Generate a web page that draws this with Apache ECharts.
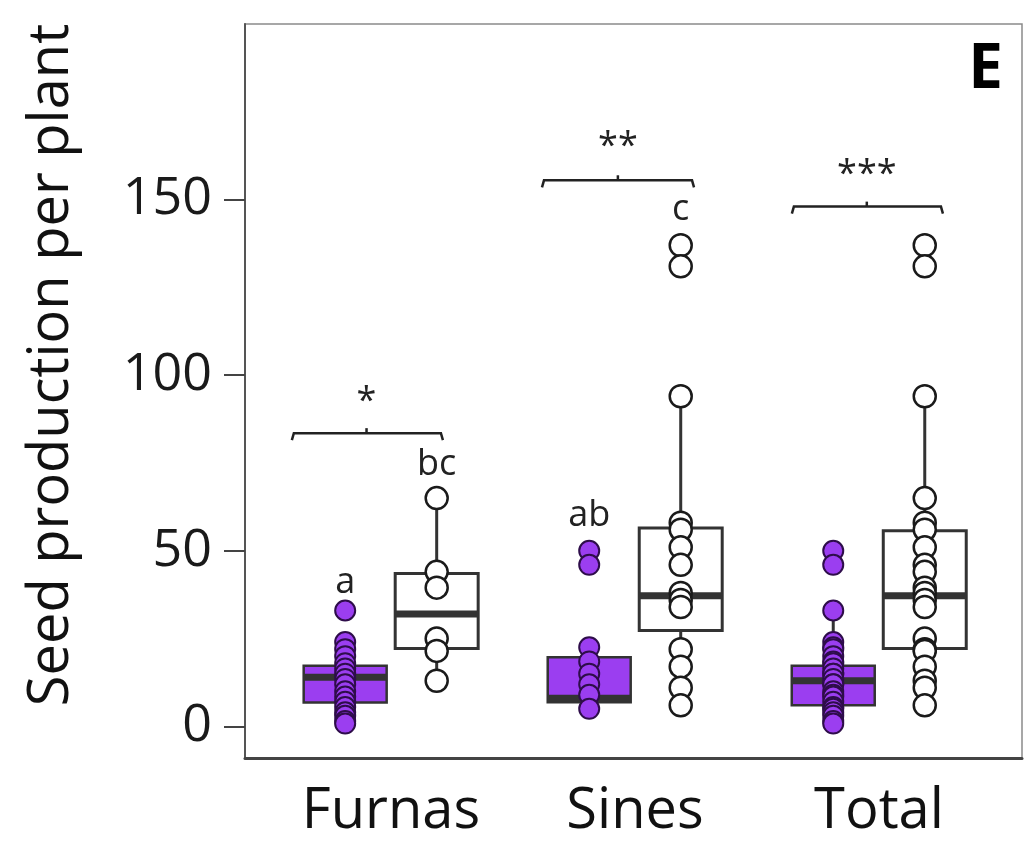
<!DOCTYPE html>
<html><head><meta charset="utf-8">
<script src="https://cdn.jsdelivr.net/npm/echarts@6/dist/echarts.min.js"></script>
<style>html,body{margin:0;padding:0;background:#fff}#c{width:1024px;height:847px}</style>
</head><body><div id="c"></div>
<script>
// ---- data ----
const sites = ['Furnas', 'Sines', 'Total'];
const yTicks = [0, 50, 100, 150];
// box stats: [lower whisker, Q1, median, Q3, upper whisker]
const purpleBox = [[0.8, 6.8, 14, 17.3, 24], [5, 6.9, 8, 19.7, 22.5], [0.8, 6, 13, 17.3, 33]];
const whiteBox = [[13, 22.2, 32, 43.5, 65], [6, 27.3, 37.2, 56.5, 94], [6, 22.2, 37.2, 55.7, 94]];
const purplePts = [
  [33, 24, 22, 20, 18, 16.5, 15, 13.5, 12, 10, 8.5, 7, 5.5, 4, 3, 1.5, 0.8],
  [50, 46, 22.5, 18.5, 15, 12, 9, 5],
  [50, 46, 33, 24, 22.5, 22, 20, 18.5, 18, 16.5, 15, 15, 13.5, 12, 12, 10, 9, 8.5, 7, 5.5, 5, 4, 3, 1.5, 0.8]
];
const whitePts = [
  [65, 44, 39.5, 25, 21.5, 13],
  [137, 131, 94, 58, 56, 51, 46, 38, 36, 34, 22, 17, 11, 6],
  [137, 131, 94, 65, 58, 56, 51, 46, 44, 39.5, 38, 36, 34, 25, 22, 21.5, 17, 13, 11, 6]
];
const purpleLetters = ['a', 'ab', ''];
const purpleLetterY = [41, 60, null];
const whiteLetters = ['bc', 'c', ''];
const whiteLetterY = [74.4, 147, null];
const sigMarks = ['*', '**', '***'];
const sigY = [92.3, 165, 157];
const bracketY = [83.5, 155.5, 148];
const bracketFrom = [0.594, 1.619, 2.643];
const bracketTo = [1.213, 2.242, 3.262];
const bracketMid = [0.9, 1.93, 2.95];

// ---- layout helpers ----
const OFF = 0.1875, HALF = 0.17;
const PURPLE = '#9b3ef0', DARK = '#333333';
const FONT = 'Open Sans';

const boxData = [];
sites.forEach((s, i) => {
  boxData.push([i + 1 - OFF].concat(purpleBox[i]).concat([0]));
  boxData.push([i + 1 + OFF].concat(whiteBox[i]).concat([1]));
});
const pData = [], wData = [];
sites.forEach((s, i) => {
  purplePts[i].forEach(v => pData.push([i + 1 - OFF, v]));
  whitePts[i].forEach(v => wData.push([i + 1 + OFF, v]));
});
const textData = [];
sites.forEach((s, i) => {
  if (purpleLetters[i]) textData.push([i + 1 - OFF, purpleLetterY[i], purpleLetters[i]]);
  if (whiteLetters[i]) textData.push([i + 1 + OFF, whiteLetterY[i], whiteLetters[i]]);
  textData.push([bracketMid[i], sigY[i], sigMarks[i]]);
});
const brData = sites.map((s, i) => [bracketFrom[i], bracketTo[i], bracketY[i], bracketMid[i]]);

const chart = echarts.init(document.getElementById('c'), null, {renderer: 'canvas'});
chart.setOption({
  animation: false,
  backgroundColor: '#fff',
  title: {text: 'E', right: 16, top: 34, textStyle: {fontFamily: FONT, fontWeight: 'bold', fontSize: 62, color: '#000'}},
  grid: {left: 245, right: 2, top: 24, bottom: 89, show: true, borderColor: '#8a8a8a', borderWidth: 1.5, containLabel: false},
  xAxis: {
    type: 'value', min: 0.402, max: 3.586,
    splitLine: {show: false},
    axisLine: {show: true, onZero: false, lineStyle: {color: '#444', width: 3}},
    axisTick: {show: false},
    axisLabel: {
      customValues: [1, 2, 3],
      formatter: v => sites[Math.round(v) - 1] || '',
      fontFamily: FONT, fontSize: 56, color: '#111', margin: 26
    }
  },
  yAxis: {
    type: 'value', min: -9, max: 200,
    name: 'Seed production per plant', nameLocation: 'middle', nameRotate: 90, nameGap: 165,
    nameTextStyle: {fontFamily: FONT, fontSize: 56, color: '#111', padding: [0, 0, 0, 52]},
    splitLine: {show: false},
    axisLine: {show: true, onZero: false, lineStyle: {color: '#555', width: 2}},
    axisTick: {show: true, customValues: yTicks, length: 21, lineStyle: {color: '#444', width: 2}},
    axisLabel: {customValues: yTicks, fontFamily: FONT, fontSize: 52, color: '#1a1a1a', margin: 33}
  },
  series: [
    {
      type: 'custom', z: 2, data: boxData,
      renderItem: (params, api) => {
        const x = api.value(0);
        const lo = api.coord([x, api.value(1)]), q1 = api.coord([x, api.value(2)]),
          md = api.coord([x, api.value(3)]), q3 = api.coord([x, api.value(4)]), hi = api.coord([x, api.value(5)]);
        const hw = api.size([HALF, 0])[0];
        const purple = api.value(6) === 0;
        const lw = {stroke: DARK, lineWidth: 3};
        return {
          type: 'group', children: [
            {type: 'line', shape: {x1: hi[0], y1: hi[1], x2: q3[0], y2: q3[1]}, style: lw},
            {type: 'line', shape: {x1: lo[0], y1: lo[1], x2: q1[0], y2: q1[1]}, style: lw},
            {type: 'rect', shape: {x: q3[0] - hw, y: q3[1], width: 2 * hw, height: q1[1] - q3[1]},
              style: {fill: purple ? PURPLE : '#fff', stroke: DARK, lineWidth: purple ? 2.5 : 3}},
            {type: 'line', shape: {x1: md[0] - hw, y1: md[1], x2: md[0] + hw, y2: md[1]}, style: {stroke: DARK, lineWidth: 7}}
          ]
        };
      }
    },
    {
      type: 'scatter', z: 3, data: pData, symbol: 'circle', symbolSize: 20,
      itemStyle: {color: PURPLE, borderColor: '#2e0d4a', borderWidth: 2, opacity: 1}
    },
    {
      type: 'scatter', z: 3, data: wData, symbol: 'circle', symbolSize: 22,
      itemStyle: {color: '#fff', borderColor: '#1a1a1a', borderWidth: 2.5, opacity: 1}
    },
    {
      type: 'custom', z: 4, data: brData,
      renderItem: (params, api) => {
        const a = api.coord([api.value(0), api.value(2)]);
        const b = api.coord([api.value(1), api.value(2)]);
        const m = api.coord([api.value(3), api.value(2)]);
        return {
          type: 'group', children: [
            {type: 'polyline', shape: {points: [[a[0], a[1] + 7], [a[0] + 2, a[1]], [b[0] - 2, b[1]], [b[0], b[1] + 7]]},
              style: {stroke: '#222', lineWidth: 2.5, fill: null}},
            {type: 'line', shape: {x1: m[0], y1: m[1], x2: m[0], y2: m[1] - 5}, style: {stroke: '#222', lineWidth: 2.5}}
          ]
        };
      }
    },
    {
      type: 'custom', z: 5, data: textData,
      encode: {x: 0, y: 1},
      renderItem: (params, api) => {
        const p = api.coord([api.value(0), api.value(1)]);
        const t = textData[params.dataIndex][2];
        return {
          type: 'text', x: p[0], y: p[1],
          style: {text: t, fontFamily: FONT, fontSize: 36, fill: '#222', align: 'center', verticalAlign: 'middle'}
        };
      }
    }
  ]
});
</script></body></html>
